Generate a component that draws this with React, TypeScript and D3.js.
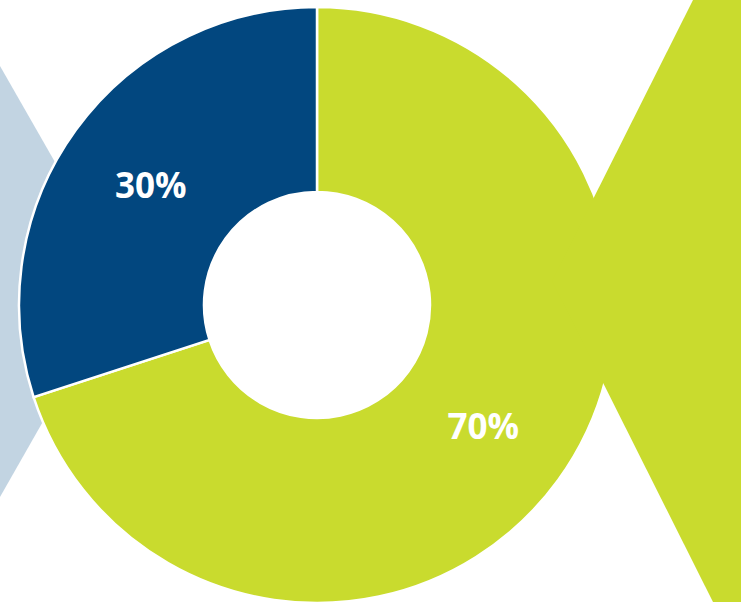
import React from "react";
import * as d3 from "d3";

const categories = ["A", "B"];
const values = [70, 30];
const labels = ["70%", "30%"];
const colors = ["#C9DB2E", "#02477F"];

const W = 741;
const H = 602;
const cx = 317;
const cy = 305;
const outerR = 298;
const innerR = 113;

export default function App() {
  const pie = d3.pie<number>().sort(null).value((d) => d);
  const arcs = pie(values);
  const arc = d3.arc<d3.PieArcDatum<number>>().innerRadius(innerR).outerRadius(outerR);

  const leftChevron = "M0,66 L123,281 L0,497 Z";
  const rightChevron = "M693,0 L741,0 L741,602 L713,602 L552,281 Z";

  return (
    <div style={{ position: "fixed", left: 0, top: 0, width: W, height: H }}>
      <svg width={W} height={H} style={{ display: "block", background: "#fff" }}>
        <path d={leftChevron} fill="#C2D4E2" />
        <g transform={`translate(${cx},${cy})`}>
          {arcs.map((a, i) => (
            <path key={categories[i]} d={arc(a) || ""} fill={colors[i]} stroke="#fff" strokeWidth={2.5} strokeLinejoin="miter" />
          ))}
        </g>
        <path d={rightChevron} fill="#C9DB2E" />
        <g transform={`translate(${cx},${cy})`}>
          {arcs.map((a, i) => {
            const [x, y] = arc.centroid(a);
            return (
              <text
                key={"t" + categories[i]}
                x={x}
                y={y}
                textAnchor="middle"
                dominantBaseline="central"
                fill="#fff"
                fontFamily="'Open Sans', sans-serif"
                fontWeight={700}
                fontSize={35}
              >
                {labels[i]}
              </text>
            );
          })}
        </g>
      </svg>
    </div>
  );
}
